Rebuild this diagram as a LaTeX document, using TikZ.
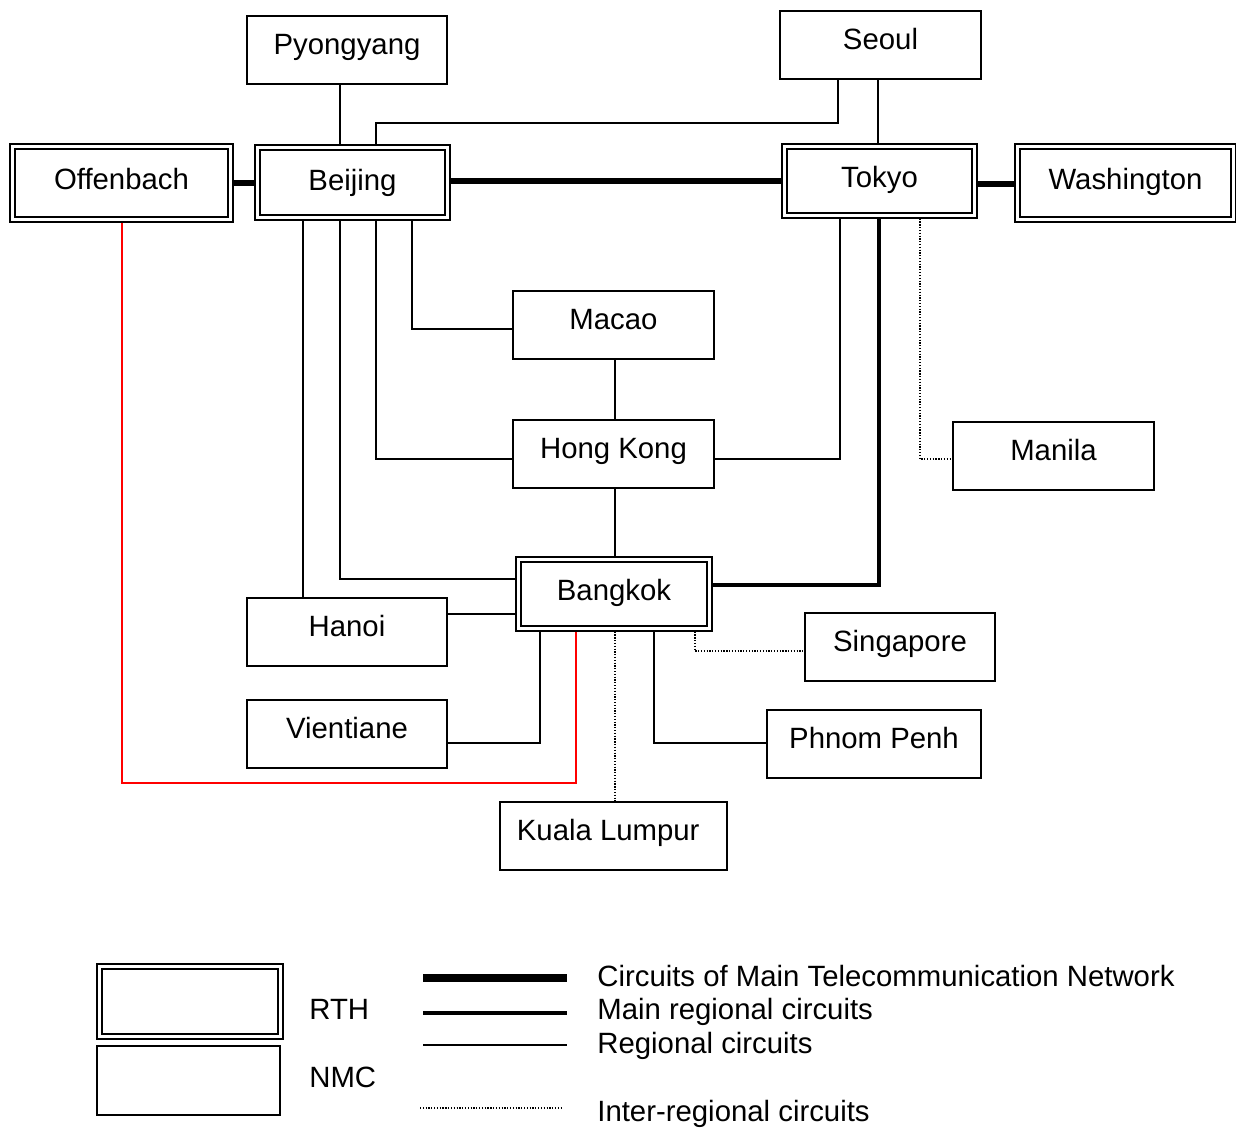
\documentclass[tikz,border=0pt]{standalone}
\usepackage{fontspec}
\setmainfont{Liberation Sans}
\begin{document}
\begin{tikzpicture}[x=0.02cm,y=-0.02cm,
  every node/.style={font=\fontsize{16.7pt}{19pt}\selectfont},
  boxtext/.style={inner sep=0pt, text height=11.3pt, text depth=6.2pt},
  nmc/.style={boxtext, draw, line width=0.85pt, rectangle},
  rth/.style={boxtext, text depth=4pt, draw, line width=0.75pt, rectangle,
    path picture={\draw[line width=1.5pt]
      ([xshift=0.1cm,yshift=-0.1cm]path picture bounding box.north west) rectangle
      ([xshift=-0.1cm,yshift=0.1cm]path picture bounding box.south east);}},
  reg/.style={line width=0.85pt},
  mtn/.style={line width=3.6pt},
  mreg/.style={line width=2pt},
  inter/.style={line width=0.7pt, dash pattern=on 0.7pt off 0.9pt},
  redl/.style={line width=0.85pt, red},
  legtext/.style={anchor=base west, inner sep=0pt}
]
\useasboundingbox (0,0) rectangle (1236,1128);
\newcommand\mybox[7]{%
  \node[#7, minimum width={(#4-#2)*0.02cm}, minimum height={(#5-#3)*0.02cm}]
    (#1) at ({(#2+#4)/2},{(#3+#5)/2}) {#6};}
% nodes
\mybox{pyongyang}{247}{16}{447}{84}{Pyongyang}{nmc}
\mybox{seoul}{780}{11}{981}{79}{Seoul}{nmc}
\mybox{offenbach}{10}{144}{233}{222}{Offenbach}{rth}
\mybox{beijing}{255}{145}{450}{220}{Beijing}{rth, text depth=2.5pt}
\mybox{tokyo}{782}{144}{977}{218}{Tokyo}{rth}
\mybox{washington}{1015}{144}{1236}{222}{Washington}{rth}
\mybox{macao}{513}{291}{714}{359}{Macao}{nmc}
\mybox{hongkong}{513}{420}{714}{488}{Hong Kong}{nmc}
\mybox{manila}{953}{422}{1154}{490}{Manila}{nmc}
\mybox{bangkok}{516}{557}{712}{631}{Bangkok}{rth}
\mybox{hanoi}{247}{598}{447}{666}{Hanoi}{nmc}
\mybox{singapore}{805}{613}{995}{681}{Singapore}{nmc}
\mybox{vientiane}{247}{700}{447}{768}{Vientiane}{nmc}
\mybox{phnompenh}{767}{710}{981}{778}{Phnom Penh}{nmc}
\mybox{kl}{500}{802}{727}{870}{Kuala Lumpur\kern6pt\null}{nmc}
% corner coordinates
\coordinate (seoulbend) at (376,123);
\coordinate (redbend) at (576,783);
% connectors
\draw[mtn] (offenbach.east |- 0,183) -- (beijing.west |- 0,183);
\draw[mtn] (beijing.east |- 0,181) -- (tokyo.west |- 0,181);
\draw[mtn] (tokyo.east |- 0,184) -- (washington.west |- 0,184);
\draw[reg] (pyongyang.south -| 340,0) -- (beijing.north -| 340,0);
\draw[reg] (seoul.south -| 838,0) |- (seoulbend) -- (beijing.north -| 376,0);
\draw[reg] (seoul.south -| 878,0) -- (tokyo.north -| 878,0);
\draw[reg] (beijing.south -| 303,0) -- (hanoi.north -| 303,0);
\draw[reg] (beijing.south -| 340,0) |- (bangkok.west |- 0,579);
\draw[reg] (beijing.south -| 376,0) |- (hongkong.west |- 0,459);
\draw[reg] (beijing.south -| 412,0) |- (macao.west |- 0,329);
\draw[reg] (macao.south -| 615,0) -- (hongkong.north -| 615,0);
\draw[reg] (hongkong.south -| 615,0) -- (bangkok.north -| 615,0);
\draw[reg] (tokyo.south -| 840,0) |- (hongkong.east |- 0,459);
\draw[mreg] (tokyo.south -| 879,0) |- (bangkok.east |- 0,585);
\draw[inter] (tokyo.south -| 920,0) |- (manila.west |- 0,459);
\draw[reg] (hanoi.east |- 0,614) -- (bangkok.west |- 0,614);
\draw[reg] (vientiane.east |- 0,743) -| (bangkok.south -| 540,0);
\draw[redl] (offenbach.south -| 122,0) |- (redbend) -- (bangkok.south -| 576,0);
\draw[inter] (bangkok.south -| 615,0) -- (kl.north -| 615,0);
\draw[reg] (bangkok.south -| 654,0) |- (phnompenh.west |- 0,743);
\draw[inter] (bangkok.south -| 695,0) |- (singapore.west |- 0,651);
% legend
\mybox{legrth}{97}{964}{283}{1039}{}{rth}
\mybox{legnmc}{97}{1046}{280}{1115}{}{nmc}
\node[legtext] (trth) at (309,1019) {RTH};
\node[legtext] (tnmc) at (309,1087) {NMC};
\coordinate (l1a) at (423,978); \coordinate (l1b) at (567,978);
\coordinate (l2a) at (423,1013); \coordinate (l2b) at (567,1013);
\coordinate (l3a) at (423,1045); \coordinate (l3b) at (567,1045);
\coordinate (l4a) at (420,1108); \coordinate (l4b) at (562,1108);
\draw[line width=4pt] (l1a) -- (l1b);
\draw[mreg] (l2a) -- (l2b);
\draw[reg] (l3a) -- (l3b);
\draw[inter] (l4a) -- (l4b);
\node[legtext] (t1) at (597,986) {Circuits of Main Telecommunication Network};
\node[legtext] (t2) at (597,1019) {Main regional circuits};
\node[legtext] (t3) at (597,1053) {Regional circuits};
\node[legtext] (t4) at (597,1121) {Inter-regional circuits};
\end{tikzpicture}
\end{document}
